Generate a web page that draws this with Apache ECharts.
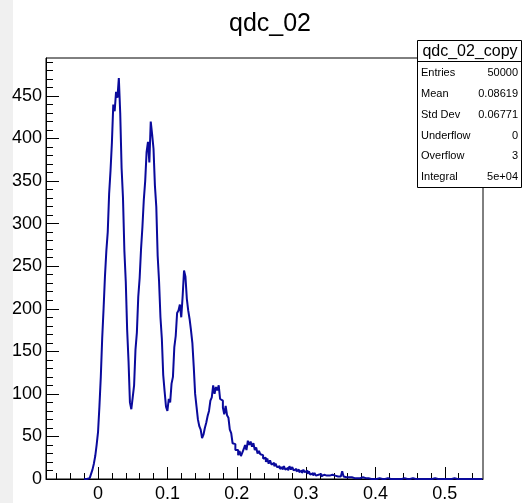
<!DOCTYPE html>
<html>
<head>
<meta charset="utf-8">
<script src="https://cdn.jsdelivr.net/npm/echarts@6/dist/echarts.min.js"></script>
<style>
  html, body { margin: 0; padding: 0; background: #ffffff; }
  #chart { width: 522px; height: 503px; }
</style>
</head>
<body>
<div id="chart"></div>
<script>
// qdc_02 histogram: fixed-width bins starting at binStart
const binStart = -0.02;
const binWidth = 0.002;
const counts = [
  0, 0, 1, 1, 3, 6, 11, 18, 27, 40,
  55, 85, 120, 165, 200, 238, 268, 290, 335, 362,
  395, 440, 432, 455, 448, 471, 430, 365, 330, 268,
  232, 175, 138, 90, 82, 96, 110, 152, 172, 214,
  236, 270, 296, 328, 350, 384, 396, 372, 420, 405,
  388, 345, 320, 262, 232, 190, 165, 122, 103, 85,
  80, 94, 90, 112, 120, 155, 168, 195, 198, 205,
  190, 215, 245, 238, 212, 198, 188, 175, 160, 132,
  100, 85, 70, 62, 58, 48, 52, 60, 66, 74,
  80, 92, 96, 110, 100, 108, 104, 110, 94, 92,
  84, 76, 86, 75, 72, 58, 54, 42, 41, 34,
  34, 28, 33, 27, 31, 35, 40, 34, 45, 40,
  44, 38, 42, 34, 37, 30, 33, 29, 28, 24,
  25, 20, 24, 18, 22, 17, 19, 15, 18, 14,
  15, 12, 14, 11, 15, 11, 13, 10, 15, 11,
  14, 10, 12, 9, 11, 8, 10, 7, 11, 8,
  10, 6, 9, 5, 7, 4, 7, 4, 5, 3,
  6, 3, 5, 3, 4, 2, 4, 3, 5, 3,
  4, 6, 3, 4, 3, 3, 9, 3, 2, 3,
  2, 3, 2, 2, 1, 2, 1, 2, 1, 1,
  2, 1, 1, 0, 1, 1, 0, 1, 0, 1,
  0, 1, 1, 0, 0, 1, 0, 0, 1, 0,
  0, 1, 0, 0, 0, 1, 0, 0, 0, 0,
  1, 0, 0, 0, 0, 0, 1, 0, 0, 0,
  0, 0, 0, 1, 0, 0, 0, 0, 0, 0,
  0, 0, 1, 0, 0, 0, 0, 0, 0, 0,
  0, 0, 0, 0, 0, 0, 1, 0, 0, 0,
  0, 0, 0, 0, 0, 0, 0, 0, 0, 0,
  0, 0, 0, 0, 0, 0, 0
];

// axis ranges and ticks
const xRange = [-0.075, 0.555];
const yRange = [0, 494.6];
const xMajorTicks = [0, 0.1, 0.2, 0.3, 0.4, 0.5];
const xMinorTicks = [-0.06, -0.04, -0.02, 0.02, 0.04, 0.06, 0.08, 0.12, 0.14, 0.16, 0.18,
  0.22, 0.24, 0.26, 0.28, 0.32, 0.34, 0.36, 0.38, 0.42, 0.44, 0.46, 0.48, 0.52, 0.54];
const yMajorTicks = [0, 50, 100, 150, 200, 250, 300, 350, 400, 450];
const yMinorTicks = [10, 20, 30, 40, 60, 70, 80, 90, 110, 120, 130, 140, 160, 170, 180, 190,
  210, 220, 230, 240, 260, 270, 280, 290, 310, 320, 330, 340, 360, 370, 380, 390,
  410, 420, 430, 440, 460, 470, 480, 490];

// statistics panel
const statsTitle = 'qdc_02_copy';
const statsLabels = ['Entries', 'Mean', 'Std Dev', 'Underflow', 'Overflow', 'Integral'];
const statsValues = ['50000', '0.08619', '0.06771', '0', '3', '5e+04'];
const chartTitle = 'qdc_02';

// step outline through the bin edges
const outline = [];
counts.forEach(function (c, i) {
  const x0 = binStart + i * binWidth;
  const x1 = x0 + binWidth;
  outline.push([x0, c], [x1, c]);
});

const FONT = 'Liberation Sans, Arial, sans-serif';
const lineColor = '#0a0a9c';

const chart = echarts.init(document.getElementById('chart'), null, { renderer: 'canvas' });

const statsGraphics = [];
const boxL = 417, boxT = 40, boxR = 521, boxB = 187, headB = 61;
statsGraphics.push({
  type: 'rect', z: 100,
  shape: { x: boxL + 0.5, y: boxT + 0.5, width: boxR - boxL, height: boxB - boxT },
  style: { fill: '#ffffff', stroke: '#000000', lineWidth: 1 }
});
statsGraphics.push({
  type: 'line', z: 101,
  shape: { x1: boxL, y1: headB + 0.5, x2: boxR, y2: headB + 0.5 },
  style: { stroke: '#000000', lineWidth: 1 }
});
statsGraphics.push({
  type: 'text', z: 102, x: (boxL + boxR) / 2 + 1, y: (boxT + headB) / 2 + 1,
  style: { text: statsTitle, font: '16px ' + FONT, fill: '#000', align: 'center', verticalAlign: 'middle' }
});
const rowY = [72.5, 93.5, 115, 136, 156, 176.5];
statsLabels.forEach(function (lab, i) {
  statsGraphics.push({
    type: 'text', z: 102, x: 421, y: rowY[i],
    style: { text: lab, font: '11px ' + FONT, fill: '#000', align: 'left', verticalAlign: 'middle' }
  });
  statsGraphics.push({
    type: 'text', z: 102, x: 518, y: rowY[i],
    style: { text: statsValues[i], font: '11px ' + FONT, fill: '#000', align: 'right', verticalAlign: 'middle' }
  });
});

const option = {
  animation: false,
  backgroundColor: '#ffffff',
  title: {
    text: chartTitle,
    left: 265, top: 7, textAlign: 'center',
    textStyle: { fontFamily: FONT, fontSize: 25, fontWeight: 'normal', color: '#000' }
  },
  grid: {
    left: 46, top: 58, right: 39, bottom: 24,
    show: true, borderColor: '#000', borderWidth: 1, backgroundColor: '#ffffff'
  },
  xAxis: [
    {
      type: 'value', min: xRange[0], max: xRange[1],
      axisLine: { show: true, onZero: false, lineStyle: { color: '#000', width: 1 } },
      axisTick: { show: true, inside: true, length: 12, customValues: xMajorTicks, lineStyle: { color: '#000' } },
      axisLabel: { customValues: xMajorTicks, margin: 6, color: '#000', fontFamily: FONT, fontSize: 18 },
      splitLine: { show: false }
    },
    {
      type: 'value', min: xRange[0], max: xRange[1], position: 'bottom',
      axisLine: { show: false, onZero: false },
      axisTick: { show: true, inside: true, length: 6, customValues: xMinorTicks, lineStyle: { color: '#000' } },
      axisLabel: { show: false },
      splitLine: { show: false }
    }
  ],
  yAxis: [
    {
      type: 'value', min: yRange[0], max: yRange[1],
      axisLine: { show: true, onZero: false, lineStyle: { color: '#000', width: 1 } },
      axisTick: { show: true, inside: true, length: 13, customValues: yMajorTicks, lineStyle: { color: '#000' } },
      axisLabel: { customValues: yMajorTicks, margin: 4, color: '#000', fontFamily: FONT, fontSize: 18 },
      splitLine: { show: false }
    },
    {
      type: 'value', min: yRange[0], max: yRange[1], position: 'left',
      axisLine: { show: false, onZero: false },
      axisTick: { show: true, inside: true, length: 7, customValues: yMinorTicks, lineStyle: { color: '#000' } },
      axisLabel: { show: false },
      splitLine: { show: false }
    }
  ],
  series: [{
    type: 'line',
    xAxisIndex: 0, yAxisIndex: 0,
    data: outline,
    showSymbol: false,
    symbol: 'none',
    lineStyle: { color: lineColor, width: 2 },
    clip: true
  }],
  graphic: [
    { type: 'rect', z: -1, shape: { x: 0, y: 0, width: 13, height: 503 }, style: { fill: '#f0f0f0' } }
  ].concat(statsGraphics)
};

chart.setOption(option);
</script>
</body>
</html>
